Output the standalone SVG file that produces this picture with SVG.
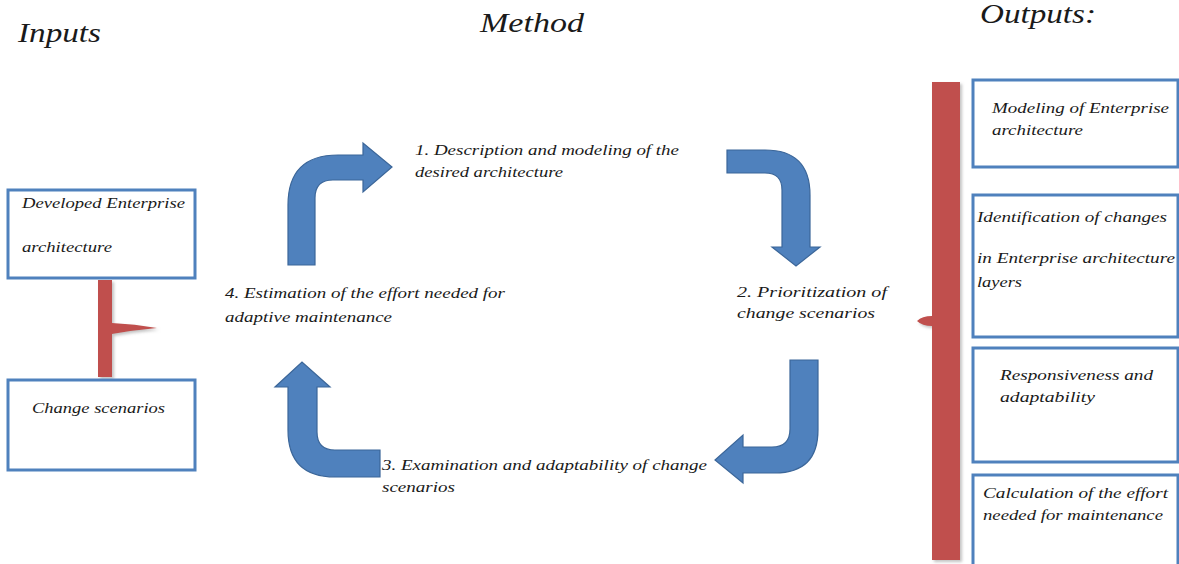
<svg xmlns="http://www.w3.org/2000/svg" width="1179" height="564" viewBox="0 0 1179 564">
<defs>
<style>
text{font-family:"Liberation Serif","DejaVu Serif",serif;font-style:italic;fill:#1a1a1a}
.t{font-size:15px}
.h{font-size:28px}
.box{fill:#fff;stroke:#4F81BD;stroke-width:3}
.arrow{fill:#4F81BD;stroke:#3B6699;stroke-width:1.2;stroke-linejoin:miter}
.red{fill:#C0504D}
</style>
<filter id="sh" x="-30%" y="-10%" width="160%" height="120%">
<feDropShadow dx="2" dy="2" stdDeviation="1.5" flood-color="#9a9a9a" flood-opacity="0.6"/>
</filter>
</defs>
<rect width="1179" height="564" fill="#fff"/>

<g id="titles">
<text class="h" x="18" y="42" textLength="83" lengthAdjust="spacingAndGlyphs">Inputs</text>
<text class="h" x="480" y="32" textLength="104" lengthAdjust="spacingAndGlyphs">Method</text>
<text class="h" x="980" y="23" textLength="116" lengthAdjust="spacingAndGlyphs">Outputs:</text>
</g>

<g id="connectors">
<path class="arrow" d="M288,265 L288,205 Q288,155 338,155 L363,155 L363,143 L392,167 L363,192 L363,180 L333,180 Q315,180 315,198 L315,265 Z"/>
<path class="arrow" d="M727,150 L765,150 Q810,150 810,195 L810,247 L820,247 L796,266 L772,247 L782,247 L782,190 Q782,173 765,173 L727,173 Z"/>
<path class="arrow" d="M790,360 L818,360 L818,430 Q818,473 775,473 L743,473 L743,483 L715,460 L743,435 L743,447 L772,447 Q790,447 790,429 Z"/>
<path class="arrow" d="M380,450 L335,450 Q317,450 317,432 L317,387 L330,387 L302,362 L275,387 L288,387 L288,430 Q288,477 335,477 L380,477 Z"/>
<path class="red" filter="url(#sh)" d="M98,280 L112,280 L112,323 Q135,324 157,328 Q135,330 112,334 L112,377 L98,377 Z"/>
<path class="red" filter="url(#sh)" d="M932,82 L960,82 L960,560 L932,560 L932,326 Q922,326 917,321 Q922,316 932,316 Z"/>
</g>

<g id="node-developed">
<rect class="box" x="8" y="190" width="187" height="88"/>
<text class="t" x="22" y="208" textLength="163" lengthAdjust="spacingAndGlyphs">Developed Enterprise</text>
<text class="t" x="22" y="252" textLength="90" lengthAdjust="spacingAndGlyphs">architecture</text>
</g>
<g id="node-change">
<rect class="box" x="8" y="380" width="187" height="90"/>
<text class="t" x="32" y="413" textLength="133" lengthAdjust="spacingAndGlyphs">Change scenarios</text>
</g>

<g id="step1">
<text class="t" x="415" y="155" textLength="264" lengthAdjust="spacingAndGlyphs">1. Description and modeling of the</text>
<text class="t" x="415" y="177" textLength="148" lengthAdjust="spacingAndGlyphs">desired architecture</text>
</g>
<g id="step2">
<text class="t" x="737" y="297" textLength="150" lengthAdjust="spacingAndGlyphs">2. Prioritization of</text>
<text class="t" x="737" y="318" textLength="138" lengthAdjust="spacingAndGlyphs">change scenarios</text>
</g>
<g id="step3">
<text class="t" x="382" y="470" textLength="325" lengthAdjust="spacingAndGlyphs">3. Examination and adaptability of change</text>
<text class="t" x="382" y="492" textLength="73" lengthAdjust="spacingAndGlyphs">scenarios</text>
</g>
<g id="step4">
<text class="t" x="225" y="298" textLength="280" lengthAdjust="spacingAndGlyphs">4. Estimation of the effort needed for</text>
<text class="t" x="225" y="322" textLength="167" lengthAdjust="spacingAndGlyphs">adaptive maintenance</text>
</g>

<g id="out-modeling">
<rect class="box" x="973" y="80" width="205" height="87"/>
<text class="t" x="992" y="113" textLength="177" lengthAdjust="spacingAndGlyphs">Modeling of Enterprise</text>
<text class="t" x="992" y="135" textLength="91" lengthAdjust="spacingAndGlyphs">architecture</text>
</g>
<g id="out-identification">
<rect class="box" x="973" y="195" width="205" height="142"/>
<text class="t" x="977" y="222" textLength="190" lengthAdjust="spacingAndGlyphs">Identification of changes</text>
<text class="t" x="977" y="263" textLength="198" lengthAdjust="spacingAndGlyphs">in Enterprise architecture</text>
<text class="t" x="977" y="287" textLength="45" lengthAdjust="spacingAndGlyphs">layers</text>
</g>
<g id="out-responsiveness">
<rect class="box" x="973" y="348" width="205" height="114"/>
<text class="t" x="1000" y="380" textLength="153" lengthAdjust="spacingAndGlyphs">Responsiveness and</text>
<text class="t" x="1000" y="402" textLength="95" lengthAdjust="spacingAndGlyphs">adaptability</text>
</g>
<g id="out-calculation">
<rect class="box" x="973" y="475" width="205" height="95"/>
<text class="t" x="983" y="498" textLength="185" lengthAdjust="spacingAndGlyphs">Calculation of the effort</text>
<text class="t" x="983" y="520" textLength="180" lengthAdjust="spacingAndGlyphs">needed for maintenance</text>
</g>
</svg>
